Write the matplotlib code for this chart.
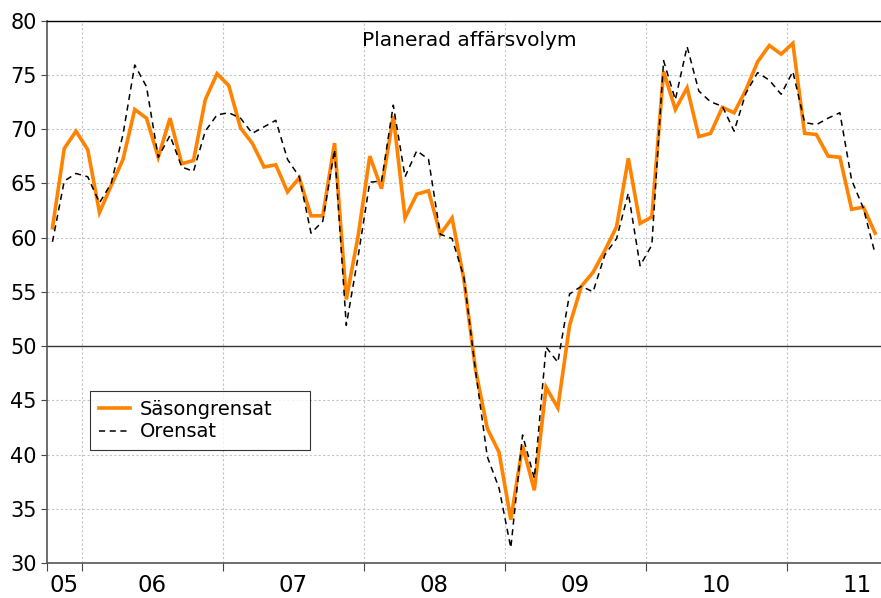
import numpy as np
import matplotlib
matplotlib.use("Agg")
import matplotlib.pyplot as plt
from matplotlib.lines import Line2D

# Monthly data, Oct 2005 - Aug 2011
start_year, start_month = 2005, 10
sasongrensat = [60.9, 68.2, 69.8, 68.1, 62.3, 64.8, 67.2, 71.8, 71.0, 67.4,
                71.0, 66.8, 67.1, 72.7, 75.1, 74.0, 70.1, 68.7, 66.5, 66.7,
                64.2, 65.5, 62.0, 62.0, 68.7, 54.3, 60.1, 67.5, 64.5, 71.2,
                61.8, 64.0, 64.3, 60.3, 61.8, 56.2, 47.8, 42.4, 40.2, 34.0,
                40.8, 36.7, 46.2, 44.3, 51.9, 55.5, 56.8, 58.8, 61.0, 67.3,
                61.3, 61.9, 75.3, 71.8, 73.8, 69.3, 69.6, 72.0, 71.5, 73.6,
                76.2, 77.7, 76.9, 77.9, 69.6, 69.5, 67.5, 67.4, 62.6, 62.8,
                60.4]
orensat = [59.6, 65.2, 65.9, 65.6, 63.2, 65.0, 69.5, 75.9, 73.9, 67.4,
           69.4, 66.5, 66.1, 69.8, 71.3, 71.5, 71.0, 69.6, 70.2, 70.8,
           67.2, 65.6, 60.4, 61.5, 68.1, 51.9, 58.2, 65.1, 65.2, 72.2,
           65.6, 68.0, 67.2, 60.3, 59.9, 56.4, 47.7, 39.8, 36.9, 31.4,
           41.8, 37.8, 49.9, 48.5, 54.8, 55.5, 55.0, 58.4, 59.9, 64.1,
           57.4, 59.3, 76.3, 72.7, 77.6, 73.5, 72.5, 72.1, 69.8, 73.3,
           75.2, 74.5, 73.2, 75.3, 70.6, 70.4, 71.0, 71.5, 65.3, 62.7,
           58.5]
year_labels = ['05', '06', '07', '08', '09', '10', '11']
series_names = ['Säsongrensat', 'Orensat']
title = 'Planerad affärsvolym'

plt.rcParams['font.family'] = ['DejaVu Sans']

n = len(sasongrensat)
x = np.arange(n)
xmin, xmax = -0.5, n - 0.5

fig = plt.figure(figsize=(8.81, 5.98), dpi=100)
ax = fig.add_axes([0.0529, 0.0585, 0.9471, 0.9072])

ax.plot(x, sasongrensat, color='#FF8300', lw=2.6, solid_joinstyle='miter', zorder=3)
ax.plot(x, orensat, color='black', lw=1.1, linestyle=(0, (4, 3)), zorder=4)

ax.axhline(50, color='#333333', lw=1.0, zorder=2)

ax.set_xlim(xmin, xmax)
ax.set_ylim(30, 80)

# year boundaries and label centres
bounds = []
centers = []
for k, lab in enumerate(year_labels):
    yr = 2000 + int(lab)
    jan_idx = (yr - start_year) * 12 + (1 - start_month)
    s = jan_idx - 0.5
    e = s + 12
    if s > xmin:
        bounds.append(s)
    centers.append((max(s, xmin) + e) / 2)

ax.set_xticks([xmin] + bounds)
ax.set_xticklabels([])
ax.set_xticks(centers, minor=True)
ax.set_xticklabels(year_labels, minor=True)
ax.tick_params(axis='x', which='major', direction='out', length=6, width=0.8, color='#444444')
ax.tick_params(axis='x', which='minor', length=0, pad=8, labelsize=16.5)

ax.set_yticks(np.arange(30, 81, 5))
ax.tick_params(axis='y', direction='out', length=4, width=0.8, color='#444444', pad=3, labelsize=15)

for b in bounds:
    ax.axvline(b, color='#c4c4c4', lw=0.8, linestyle=(0, (2, 2)), zorder=1)
for v in np.arange(35, 80, 5):
    if v != 50:
        ax.axhline(v, color='#c4c4c4', lw=0.8, linestyle=(0, (2, 2)), zorder=1)

ax.spines['right'].set_visible(False)
ax.spines['top'].set_color('black')
ax.spines['top'].set_linewidth(1.0)
ax.spines['left'].set_color('#555555')
ax.spines['left'].set_linewidth(1.2)
ax.spines['bottom'].set_color('#555555')
ax.spines['bottom'].set_linewidth(1.2)

ax.text(0.507, 0.963, title, transform=ax.transAxes, ha='center', va='center', fontsize=14.5)

handles = [Line2D([], [], color='#FF8300', lw=2.6),
           Line2D([], [], color='black', lw=1.1, linestyle=(0, (4, 3)))]
leg = ax.legend(handles, series_names, loc='lower left',
                bbox_to_anchor=(0.052, 0.208, 0.264, 0.11), mode='expand',
                frameon=True, fancybox=False, edgecolor='black', fontsize=14,
                handlelength=1.6, handletextpad=0.5, borderpad=0.45, labelspacing=0.2,
                borderaxespad=0)
leg.get_frame().set_linewidth(0.8)

fig.savefig('out.png', dpi=100)
